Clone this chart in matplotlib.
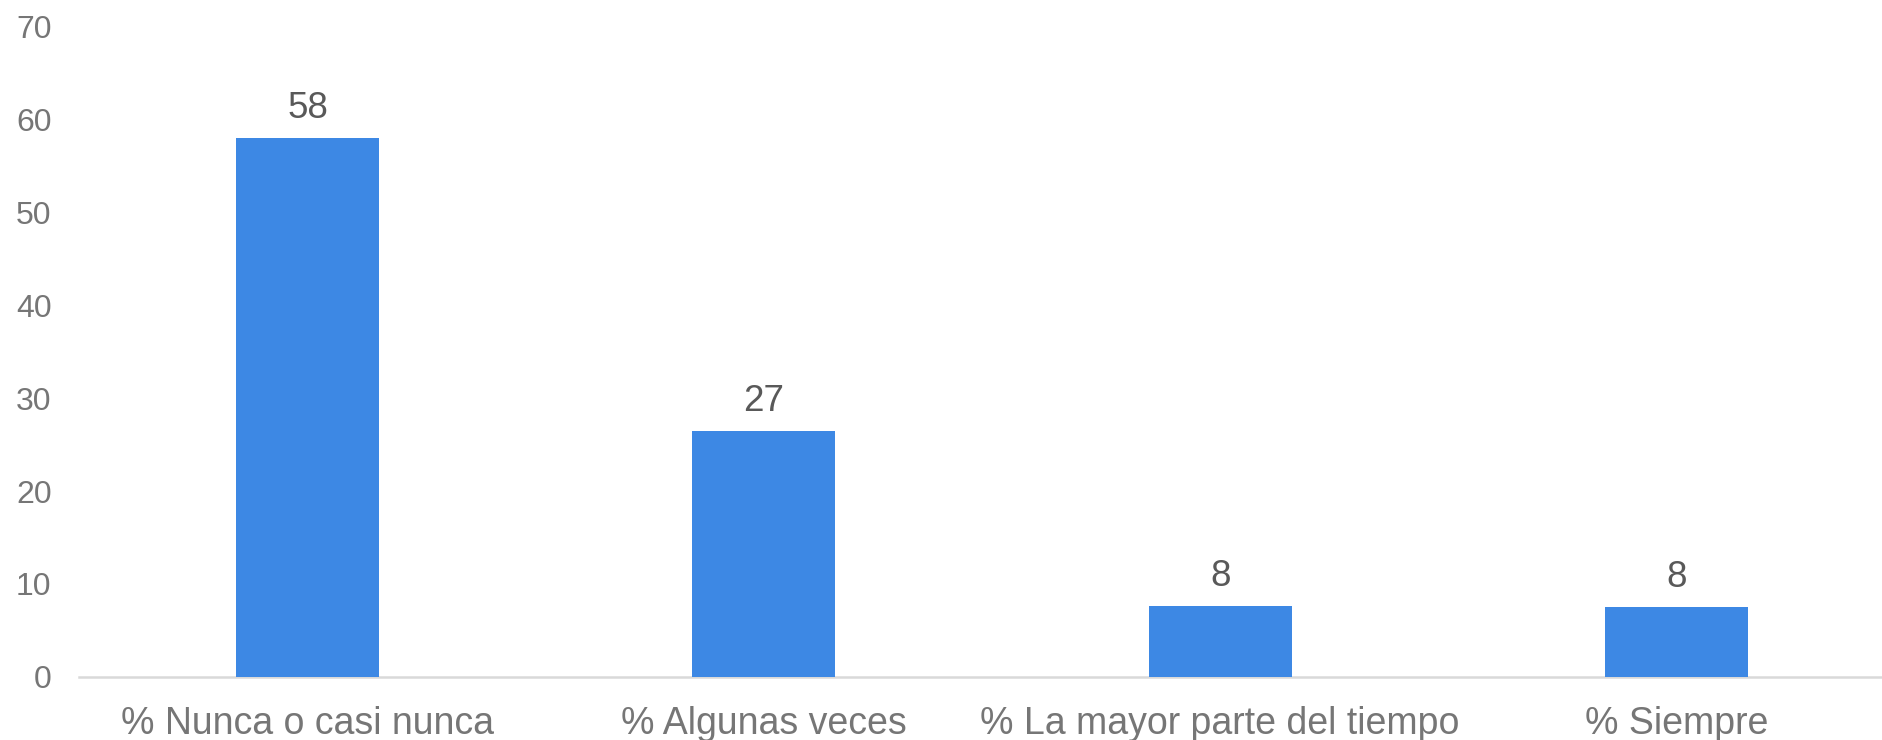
import matplotlib.pyplot as plt

categories = ["% Nunca o casi nunca", "% Algunas veces", "% La mayor parte del tiempo", "% Siempre"]
values = [58.0, 26.5, 7.6, 7.5]
yticks = [0, 10, 20, 30, 40, 50, 60, 70]

plt.rcParams['font.family'] = ['Liberation Sans', 'DejaVu Sans']

W, H = 1883, 740
fig = plt.figure(figsize=(W / 100, H / 100), dpi=100)
# axes run past the right edge, as in the original
ax = fig.add_axes([79.4 / W, (H - 676.7) / H, 4 * 456.3 / W, 649.7 / H])

x = list(range(len(categories)))
bars = ax.bar(x, values, width=0.313, color="#3D88E4", zorder=2)

for b, v in zip(bars, values):
    ax.annotate(str(int(v + 0.5)), (b.get_x() + b.get_width() / 2, v),
                xytext=(0, 14.4), textcoords="offset points",
                ha="center", va="baseline", fontsize=26.5, color="#595959")

ax.set_xlim(-0.5, 3.5)
ax.set_ylim(0, 70)
ax.set_yticks(yticks)
ax.set_xticks(x)
ax.set_xticklabels(categories)
ax.tick_params(axis="y", length=0, pad=20, labelsize=23, labelcolor="#767676")
ax.tick_params(axis="x", length=0, pad=21, labelsize=27, labelcolor="#767676")

for s in ["top", "right", "left"]:
    ax.spines[s].set_visible(False)
ax.spines["bottom"].set_color("#D9D9D9")
ax.spines["bottom"].set_linewidth(1.8)
ax.spines["bottom"].set_zorder(1)

fig.savefig("out.png", dpi=100)
